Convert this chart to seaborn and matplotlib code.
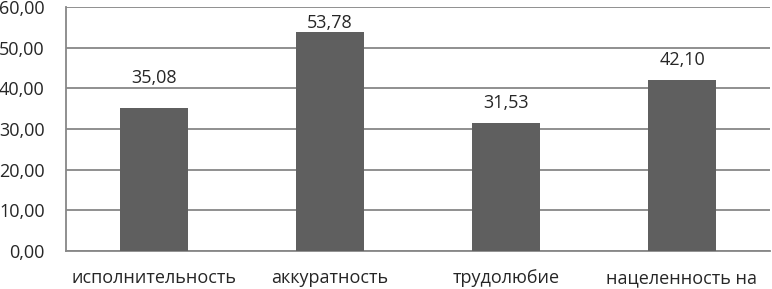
import pandas as pd
import matplotlib
matplotlib.use("Agg")
import matplotlib.pyplot as plt
import seaborn as sns

sns.set_style("white")
plt.rcParams['font.family'] = ['Open Sans', 'DejaVu Sans']

categories = ['исполнительность', 'аккуратность', 'трудолюбие', 'нацеленность на']
values = [35.08, 53.78, 31.53, 42.10]
yticks = [0, 10, 20, 30, 40, 50, 60]

# labels were moved by hand in the original, gap above each bar in points
label_gap = [18, 3, 11, 11]

df = pd.DataFrame({'cat': categories, 'val': values})

fig = plt.figure(figsize=(7.72, 2.89), dpi=100)
ax = fig.add_axes([66 / 772, 1 - 251 / 289, 704 / 772, 244 / 289])

sns.barplot(data=df, x='cat', y='val', color='#5f5f5f', saturation=1,
            width=0.39, linewidth=0, ax=ax, zorder=3)

ax.set_ylim(0, 60)
ax.set_xlim(-0.5, len(categories) - 0.5)
ax.set_yticks(yticks)
ax.set_yticklabels([f"{t:.2f}".replace('.', ',') for t in yticks], fontsize=13)
ax.yaxis.grid(True, color='#878787', linewidth=1.3, zorder=0)
ax.set_xlabel('')
ax.set_ylabel('')
ax.tick_params(axis='x', length=0, labelsize=13, pad=13)
ax.tick_params(axis='y', length=4.3, color='#878787', width=1.3, pad=11)

# category boundary ticks
ax.set_xticks([i - 0.5 for i in range(len(categories) + 1)], minor=True)
ax.tick_params(axis='x', which='minor', length=4, color='#878787', width=1.3)

for side in ['top', 'right']:
    ax.spines[side].set_visible(False)
for side in ['left', 'bottom']:
    ax.spines[side].set_color('#878787')
    ax.spines[side].set_linewidth(1.3)

for i, v in enumerate(values):
    ax.annotate(f"{v:.2f}".replace('.', ','), (i, v), xytext=(0, label_gap[i]),
                textcoords='offset points', ha='center', va='baseline',
                fontsize=13)

fig.savefig('out.png', dpi=100)
